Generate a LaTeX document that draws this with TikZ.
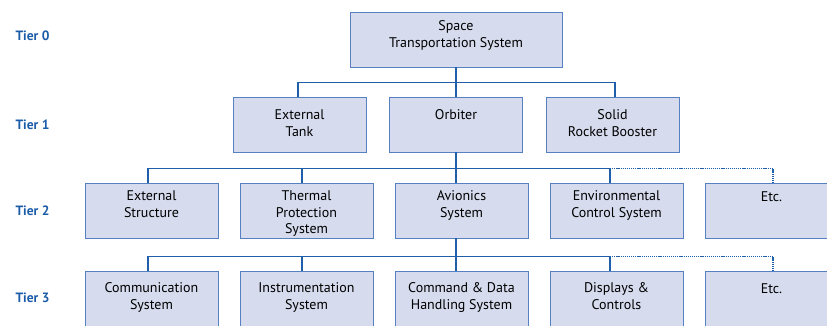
\documentclass[tikz,border=0pt]{standalone}
\usepackage{fontspec}
\setmainfont{PT Sans}
\usetikzlibrary{calc,positioning}

\definecolor{boxfill}{HTML}{D6DCEE}
\definecolor{boxline}{HTML}{5680C2}
\definecolor{busline}{HTML}{1F5FAA}
\definecolor{tierblue}{HTML}{1B5CA8}

\tikzset{
  box/.style={draw=boxline, fill=boxfill, line width=0.9pt,
    minimum width=133pt, minimum height=55pt, inner sep=0pt,
    label={[boxtext]north:#1}},
  boxtext/.style={anchor=north, align=center, inner sep=0pt, yshift=-8pt,
    font=\fontsize{14}{16.5}\selectfont},
  tier/.style={anchor=west, text=tierblue, font=\fontsize{13.5}{15}\selectfont\bfseries},
  conn/.style={draw=busline, line width=1.6pt},
  etcconn/.style={draw=busline, line width=1.4pt, dash pattern=on 1.2pt off 0.9pt}
}

\begin{document}
\begin{tikzpicture}[x=1pt, y=-1pt]
    \useasboundingbox (0,0) rectangle (827,325);
    \clip (0,0) rectangle (827,325);

    % tier labels
    \node[tier] (t0) at (12,36) {Tier 0};
    \node[tier] (t1) at (12,125) {Tier 1};
    \node[tier] (t2) at (12,211) {Tier 2};
    \node[tier] (t3) at (12,298) {Tier 3};

    % tier 0
    \begin{scope}[every label/.append style={yshift=-1pt}]
    \node[box={Space\\Transportation System}, minimum width=212pt] (sts) at (456,39.5) {};
    \end{scope}

    % tier 1
    \begin{scope}[every label/.append style={yshift=-5pt}]
    \node[box={External\\Tank}] (et)  at (299.5,124.5) {};
    \node[box={Orbiter}]        (orb) at (456,124.5) {};
    \node[box={Solid\\Rocket Booster}] (srb) at (612.5,124.5) {};
    \end{scope}

    % tier 2
    \node[box={External\\Structure}] (xstr) at (151.5,210.5) {};
    \node[box={Thermal\\Protection\\System}] (tps) at (306.5,210.5) {};
    \node[box={Avionics\\System}] (avio) at (461.5,210.5) {};
    \node[box={Environmental\\Control System}] (ecs) at (616.5,210.5) {};
    \node[box={Etc.}] (etc2) at (771.5,211) {};

    % tier 3
    \begin{scope}[every label/.append style={yshift=-4pt}]
    \node[box={Communication\\System}] (com) at (151.5,298.5) {};
    \node[box={Instrumentation\\System}] (ins) at (306.5,298.5) {};
    \node[box={Command \& Data\\Handling System}] (cdh) at (461.5,298.5) {};
    \node[box={Displays \&\\Controls}] (dc) at (616.5,298.5) {};
    \node[box={Etc.}] (etc3) at (771.5,299) {};
    \end{scope}

    % tier 0 -> tier 1
    \draw[conn] (sts.south) -- (orb.north);
    \draw[conn] ([xshift=-1.5pt]et.north) -- ++(0,-14) -| ([xshift=2.5pt]srb.north);

    % tier 1 -> tier 2
    \draw[conn] (orb.south) -- (orb.south |- avio.north);
    \draw[conn] ([xshift=-3.5pt]xstr.north) -- ++(0,-14) -| ([xshift=-6.5pt]ecs.north);
    \draw[conn] ([xshift=-4.5pt]tps.north) -- ++(0,-14);
    \draw[etcconn] ([xshift=-6.5pt]ecs.north) ++(0,-14) -| ([xshift=1.5pt]etc2.north);

    % tier 2 -> tier 3
    \draw[conn] ([xshift=-5.5pt]avio.south) -- ([xshift=-5.5pt]cdh.north);
    \draw[conn] ([xshift=-3.5pt]com.north) -- ++(0,-14) -| ([xshift=-6.5pt]dc.north);
    \draw[conn] ([xshift=-4.5pt]ins.north) -- ++(0,-14);
    \draw[etcconn] ([xshift=-6.5pt]dc.north) ++(0,-14) -| ([xshift=1.5pt]etc3.north);

\end{tikzpicture}
\end{document}
